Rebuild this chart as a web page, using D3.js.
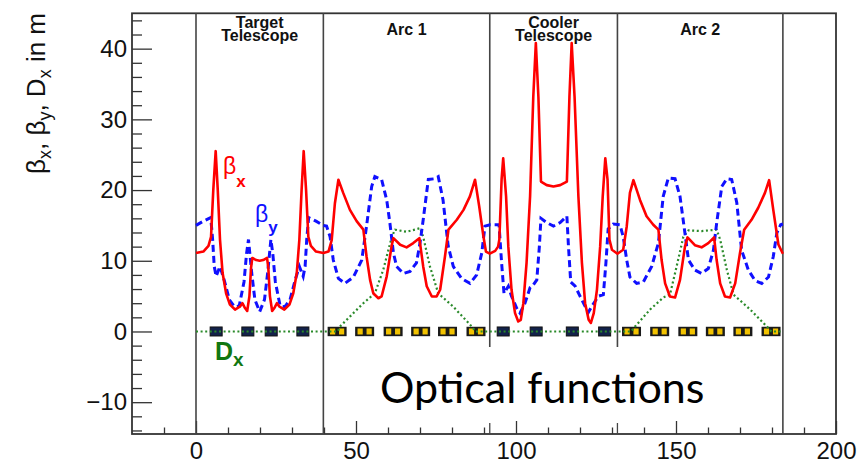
<!DOCTYPE html>
<html><head><meta charset="utf-8">
<script src="https://cdn.jsdelivr.net/npm/d3@7"></script>
<style>
body{margin:0;background:#fff;}
svg{display:block;font-family:"Liberation Sans",Arial,Helvetica,sans-serif;}
</style>
</head><body>
<svg id="c" width="861" height="464"></svg>
<script>
// ---------- data ----------
const sectionBounds = [0, 39.8, 91.8, 131.7, 183.4];
const sectionNames = [["Target","Telescope"], ["Arc 1"], ["Cooler","Telescope"], ["Arc 2"]];
const xMajorTicks = [0, 50, 100, 150, 200];
const yMajorTicks = [-10, 0, 10, 20, 30, 40];
const quadS = [6.3, 16.2, 23.5, 33.4, 96.0, 106.3, 117.6, 127.7];
const dipoleS = [44.1, 52.7, 61.6, 70.2, 78.6, 87.5, 136.1, 144.9, 153.7, 162.3, 170.9, 179.7];

const betaX = [
 [0,11.1],[2.3,11.3],[3.9,12.1],[4.7,13.4],[5.4,20.0],[6.15,25.5],[6.8,20.0],[7.5,13.0],[8.3,8.3],[9.4,5.4],[10.6,3.8],[12.2,3.1],[13.7,3.5],[14.5,4.0],[15.2,3.4],[16.0,2.9],[16.7,5.0],[17.2,9.0],[17.6,10.4],[18.8,10.1],[19.9,10.0],[21.0,10.1],[22.2,10.4],[22.6,9.0],[23.1,5.0],[23.8,2.9],[24.6,3.4],[25.3,4.0],[26.1,3.5],[27.6,3.1],[29.2,3.8],[30.4,5.4],[31.5,8.3],[32.3,13.0],[33.0,20.0],[33.65,25.5],[34.4,20.0],[35.1,13.4],[35.9,12.1],[37.5,11.3],[39.8,11.1],
 [41.4,11.3],[42.4,12.9],[43.4,18.1],[44.5,21.46],[46.0,19.6],[48.1,17.2],[50.2,15.6],[52.3,14.4],[53.3,10.6],[54.4,7.3],[55.4,5.4],[57.0,4.7],[58.0,4.95],[59.6,7.8],[61.2,12.26],[61.7,13.2],[63.8,12.26],[65.8,11.9],[67.9,12.5],[69.8,13.2],[71.0,9.2],[72.1,6.4],[73.7,4.95],[75.2,4.95],[76.3,5.9],[77.8,10.6],[78.9,14.4],[81.5,15.8],[83.6,17.2],[85.6,19.1],[87.2,21.46],[88.5,17.7],[89.8,13.5],[90.6,11.3],[91.8,11.0],
 [93.5,11.4],[94.4,12.0],[94.8,13.0],[95.5,21.5],[96.0,24.5],[96.9,19.1],[97.6,12.0],[98.6,5.9],[99.7,2.6],[100.7,1.42],[101.5,1.65],[102.3,4.0],[103.3,9.7],[104.4,19.1],[105.4,33.2],[106.2,40.8],[107.0,33.2],[107.8,21.2],[109.6,20.7],[111.7,20.5],[113.8,20.7],[115.9,21.2],[116.7,33.2],[117.4,40.8],[118.3,33.2],[119.5,19.1],[120.6,9.7],[121.6,4.0],[122.7,1.65],[123.4,1.2],[124.3,2.6],[125.3,5.9],[126.3,12.0],[127.1,19.1],[127.9,24.5],[128.6,21.5],[129.2,13.0],[130.0,11.55],[131.7,11.0],
 [133.5,11.56],[134.6,14.85],[135.6,19.6],[136.7,21.4],[138.75,18.6],[140.8,16.3],[142.9,15.1],[144.5,14.4],[145.5,10.1],[146.6,6.8],[148.1,4.95],[149.7,4.8],[151.25,7.3],[152.8,12.0],[153.6,13.3],[155.9,12.2],[158.0,11.9],[160.1,12.5],[161.9,13.3],[162.7,10.1],[163.8,6.8],[165.3,4.95],[166.9,4.8],[168.5,6.8],[170.0,11.1],[171.3,14.4],[173.6,15.8],[175.7,17.5],[177.8,19.6],[179.1,21.4],[180.4,17.2],[182.0,12.3],[183.4,11.0]
];

const betaY = [
 [0,15.0],[2.3,15.6],[4.6,16.1],[5.2,13.0],[5.7,9.2],[6.3,7.8],[7.5,9.2],[8.8,7.3],[10.4,4.5],[12.0,3.5],[13.5,3.6],[15.0,7.0],[15.8,11.0],[16.4,13.0],[17.4,8.3],[18.4,4.5],[19.9,2.8],[21.4,4.5],[22.4,8.3],[23.4,13.0],[24.0,11.0],[24.8,7.0],[26.3,3.6],[27.8,3.5],[29.4,4.5],[31.0,7.3],[32.3,9.2],[33.5,7.8],[34.1,9.2],[34.6,13.0],[35.2,16.1],[37.5,15.6],[39.8,15.0],
 [40.8,14.9],[41.9,13.4],[42.9,10.1],[44.5,7.5],[46.5,6.8],[49.2,7.7],[51.8,10.1],[53.3,14.9],[54.9,20.5],[55.9,21.9],[58.0,21.5],[59.6,18.6],[60.6,15.3],[61.7,11.1],[62.7,9.2],[64.8,8.2],[66.9,8.5],[68.9,9.7],[70.0,12.5],[71.0,15.8],[72.6,21.5],[74.6,21.6],[75.7,21.9],[77.2,18.6],[78.8,12.1],[80.4,9.2],[83.0,7.5],[85.6,6.8],[87.7,8.0],[89.3,11.1],[90.3,14.9],[91.9,15.1],
 [94.7,15.1],[95.5,9.7],[96.25,5.4],[97.6,6.4],[98.6,5.0],[100.2,3.3],[101.25,2.6],[102.8,4.0],[104.4,6.2],[105.4,6.6],[106.5,7.3],[107.3,12.0],[107.8,16.0],[109.6,15.4],[111.7,14.9],[113.8,15.4],[115.9,16.3],[116.4,12.0],[117.1,7.0],[118.5,6.4],[120.0,5.0],[122.1,3.1],[122.6,2.7],[124.3,4.0],[125.8,5.0],[127.3,5.2],[128.1,9.7],[128.8,14.5],[130.4,15.2],[132.5,15.1],
 [133.5,13.4],[134.6,10.1],[135.6,7.7],[137.7,6.8],[139.8,7.0],[142.4,9.2],[144.5,12.5],[146.0,19.1],[147.6,21.7],[149.7,21.6],[151.25,19.1],[152.8,13.9],[153.9,10.1],[155.9,8.7],[158.0,8.2],[160.1,8.9],[161.7,11.5],[162.7,15.3],[164.3,20.5],[165.9,21.6],[167.4,21.5],[169.0,18.2],[170.5,11.5],[172.6,8.7],[174.7,7.2],[176.8,6.8],[178.9,7.7],[180.4,10.6],[181.5,13.9],[182.7,15.1],[183.4,15.2]
];

const dispX = [
 [0,0],[44.3,0],[45.0,0.7],[49.2,2.6],[52.3,4.0],[55.9,5.4],[58.5,8.7],[61.2,13.4],[62.2,14.4],[65.8,14.1],[70.0,14.6],[71.0,13.4],[73.1,9.2],[75.7,5.4],[80.4,3.5],[85.6,1.0],[87.4,0],
 [136.0,0],[137.2,0.7],[141.9,3.1],[146.0,4.8],[148.1,5.2],[150.2,9.2],[152.3,13.4],[153.9,14.3],[158.0,14.2],[162.7,14.4],[163.8,13.0],[165.9,8.7],[168.0,5.2],[173.2,3.1],[178.4,0.7],[179.8,0],[183.4,0]
];

// ---------- chart ----------
const svg = d3.select("#c");
const x = d3.scaleLinear().domain([-20, 200]).range([132, 836]);
const y = d3.scaleLinear().domain([-14.5, 45]).range([434, 13.3]);
const fs = 24;

// y axis major + minor
const yMinor = d3.range(-14, 45, 2).filter(v => v % 10 !== 0);
svg.append("g").attr("transform", `translate(${x.range()[0]},0)`)
  .call(d3.axisLeft(y).tickValues(yMinor).tickSize(-10).tickFormat(""))
  .call(g => g.select(".domain").remove())
  .call(g => g.selectAll("line").attr("stroke", "#333").attr("stroke-width", 1.3));
svg.append("g").attr("transform", `translate(${x.range()[0]},0)`)
  .call(d3.axisLeft(y).tickValues(yMajorTicks).tickSize(-20).tickPadding(5).tickFormat(d3.format("d")))
  .call(g => g.select(".domain").remove())
  .call(g => g.selectAll("line").attr("stroke", "#333").attr("stroke-width", 1.3))
  .call(g => g.selectAll("text").attr("font-size", fs).attr("fill", "#111").attr("font-family", null));

// x axis
const xMinor = d3.range(-10, 200, 10).filter(v => v % 50 !== 0);
svg.append("g").attr("transform", `translate(0,${y.range()[0]})`)
  .call(d3.axisBottom(x).tickValues(xMinor).tickSize(-6.5).tickFormat(""))
  .call(g => g.select(".domain").remove())
  .call(g => g.selectAll("line").attr("stroke", "#333").attr("stroke-width", 1.3));
svg.append("g").attr("transform", `translate(0,${y.range()[0]})`)
  .call(d3.axisBottom(x).tickValues(xMajorTicks).tickSize(-13).tickPadding(8).tickFormat(d3.format("d")))
  .call(g => g.select(".domain").remove())
  .call(g => g.selectAll("line").attr("stroke", "#333").attr("stroke-width", 1.3))
  .call(g => g.selectAll("text").attr("font-size", fs).attr("fill", "#111").attr("font-family", null));

// frame
svg.append("rect").attr("x", x.range()[0]).attr("y", y.range()[1])
  .attr("width", x.range()[1] - x.range()[0]).attr("height", y.range()[0] - y.range()[1])
  .attr("fill", "none").attr("stroke", "#333").attr("stroke-width", 1.8);

// section separators
sectionBounds.forEach((b, i) => {
  const partial = (i === 2 || i === 3);
  svg.append("line").attr("x1", x(b)).attr("x2", x(b))
    .attr("y1", y(45)).attr("y2", partial ? y(-2.2) : y(-14.5))
    .attr("stroke", "#444").attr("stroke-width", 1.6);
  if (partial) {
    svg.append("line").attr("x1", x(b)).attr("x2", x(b))
      .attr("y1", y(-14.5) - 11).attr("y2", y(-14.5))
      .attr("stroke", "#444").attr("stroke-width", 1.3);
  }
});

// section names
sectionNames.forEach((n, i) => {
  const cx = x((sectionBounds[i] + sectionBounds[i + 1]) / 2);
  const t = svg.append("text").attr("x", cx).attr("text-anchor", "middle")
    .attr("font-weight", "bold").attr("font-size", 16).attr("fill", "#111");
  if (n.length === 2) {
    t.append("tspan").attr("x", cx).attr("y", 28).text(n[0]);
    t.append("tspan").attr("x", cx).attr("y", 40.5).text(n[1]);
  } else {
    t.attr("y", 35).text(n[0]);
  }
});

// magnets on the reference orbit
const mag = svg.append("g");
quadS.forEach(s => {
  mag.append("rect").attr("x", x(s) - 6).attr("y", y(0) - 4.5).attr("width", 12).attr("height", 9)
    .attr("fill", "#13224a").attr("stroke", "#111").attr("stroke-width", 1);
});
dipoleS.forEach(s => {
  mag.append("rect").attr("x", x(s) - 9.5).attr("y", y(0) - 4.7).attr("width", 19).attr("height", 9.4)
    .attr("fill", "#1a1a1a");
  [-1, 1].forEach(k => {
    mag.append("rect").attr("x", x(s) + k * 4.5 - 2.6).attr("y", y(0) - 3).attr("width", 5.2).attr("height", 6)
      .attr("fill", "#f2c200");
  });
});

// curves
const line = d3.line().x(d => x(d[0])).y(d => y(d[1]));
svg.append("path").datum(dispX).attr("d", line).attr("fill", "none")
  .attr("stroke", "#2a8a2a").attr("stroke-width", 2.2).attr("stroke-dasharray", "2,2.6");
svg.append("path").datum(betaY).attr("d", line).attr("fill", "none")
  .attr("stroke", "#1010ff").attr("stroke-width", 3).attr("stroke-dasharray", "7,4");
svg.append("path").datum(betaX).attr("d", line).attr("fill", "none")
  .attr("stroke", "#ff0000").attr("stroke-width", 2.6).attr("stroke-linejoin", "round");

// curve labels
function subLabel(px, py, main, sub, color, mainSize, subSize, mainBold, subDy) {
  const t = svg.append("text").attr("x", px).attr("y", py).attr("fill", color);
  t.append("tspan").attr("font-size", mainSize).attr("font-weight", mainBold ? "bold" : "normal").text(main);
  t.append("tspan").attr("font-size", subSize).attr("font-weight", "bold").attr("dy", subDy).text(sub);
}
subLabel(223, 174, "β", "x", "#ff0000", 23, 17, false, 12.5);
subLabel(255, 222, "β", "y", "#1010ff", 23, 17, false, 10.5);
subLabel(215, 360, "D", "x", "#117711", 25, 19, true, 5.5);

// y axis title
const yt = svg.append("text").attr("transform", "translate(45,13) rotate(-90)")
  .attr("text-anchor", "end").attr("font-size", 26).attr("fill", "#111");
[["β", 0], ["x", 1], [", β", -1], ["y", 1], [", D", -1], ["x", 1], [" in m", -1]].forEach(([s, k]) => {
  const ts = yt.append("tspan").text(s);
  if (k === 1) ts.attr("font-size", 18).attr("dy", 6);
  if (k === -1) ts.attr("dy", -6);
});

// annotation
svg.append("text").attr("x", 380).attr("y", 403).attr("font-family", "Lato, 'Open Sans', sans-serif")
  .attr("font-size", 43).attr("fill", "#000").text("Optical functions");
</script>
</body></html>
